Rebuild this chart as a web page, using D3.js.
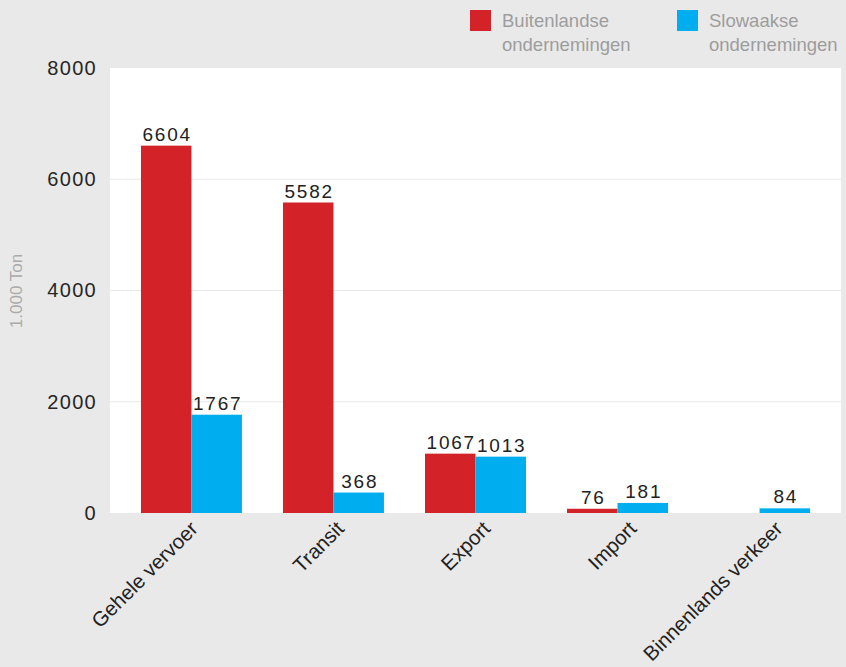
<!DOCTYPE html>
<html>
<head>
<meta charset="utf-8">
<script src="https://cdn.jsdelivr.net/npm/d3@7"></script>
<style>
  html, body { margin: 0; padding: 0; background: #e9e9e9; }
  svg { display: block; font-family: "Liberation Sans", Arial, Helvetica, sans-serif; }
</style>
</head>
<body>
<svg id="chart" width="846" height="667"></svg>
<script>
const categories = ["Gehele vervoer", "Transit", "Export", "Import", "Binnenlands verkeer"];
const seriesNames = ["Buitenlandse ondernemingen", "Slowaakse ondernemingen"];
const legendLines = [["Buitenlandse", "ondernemingen"], ["Slowaakse", "ondernemingen"]];
const buitenlandse = [6604, 5582, 1067, 76, null];
const slowaakse = [1767, 368, 1013, 181, 84];
const yTicks = [0, 2000, 4000, 6000, 8000];
const yTitle = "1.000 Ton";
const colors = ["#d42229", "#00aeef"];

const W = 846, H = 667;
const plot = { left: 110, right: 841, top: 68, bottom: 513 };
const svg = d3.select("#chart");

svg.append("rect").attr("width", W).attr("height", H).attr("fill", "#e9e9e9");
svg.append("rect")
  .attr("x", plot.left).attr("y", plot.top)
  .attr("width", plot.right - plot.left).attr("height", plot.bottom - plot.top)
  .attr("fill", "#ffffff");

const x0 = d3.scaleBand().domain(categories).range([plot.left, plot.right])
  .paddingInner(0.289).paddingOuter(0.218);
const x1 = d3.scaleBand().domain([0, 1]).range([0, x0.bandwidth()]);
const xLab = d3.scaleBand().domain(categories).range([plot.left, plot.right]).padding(0);
const y = d3.scaleLinear().domain([0, 8000]).range([plot.bottom, plot.top]);

// gridlines
svg.append("g").selectAll("line").data(yTicks.filter(t => t > 0 && t < 8000)).join("line")
  .attr("x1", plot.left).attr("x2", plot.right)
  .attr("y1", d => y(d)).attr("y2", d => y(d))
  .attr("stroke", "#e8e8e8").attr("stroke-width", 1.2);

// y axis
const yAxis = d3.axisLeft(y).tickValues(yTicks).tickSize(0).tickPadding(0).tickFormat(d3.format("d"));
const gy = svg.append("g").attr("transform", `translate(${plot.left - 13},0)`).call(yAxis);
gy.select(".domain").remove();
gy.selectAll("text").attr("fill", "#262626").attr("font-size", 20).attr("letter-spacing", "1.3px")
  .attr("font-family", "Liberation Sans, Arial, sans-serif");

// y title
svg.append("text")
  .attr("transform", `translate(22,291) rotate(-90)`)
  .attr("text-anchor", "middle")
  .attr("fill", "#aaaaaa").attr("font-size", 17)
  .text(yTitle);

// bars
const series = [buitenlandse, slowaakse];
series.forEach((vals, si) => {
  const data = categories.map((c, i) => ({ c, v: vals[i] })).filter(d => d.v != null);
  const g = svg.append("g");
  g.selectAll("rect").data(data).join("rect")
    .attr("x", d => x0(d.c) + x1(si))
    .attr("width", x1.bandwidth())
    .attr("y", d => y(d.v))
    .attr("height", d => y(0) - y(d.v))
    .attr("fill", colors[si]);
  g.selectAll("text").data(data).join("text")
    .attr("x", d => x0(d.c) + x1(si) + x1.bandwidth() / 2 + 1)
    .attr("y", d => y(d.v) - 5)
    .attr("text-anchor", "middle")
    .attr("fill", "#222").attr("font-size", 19).attr("letter-spacing", "1.8px")
    .text(d => d.v);
});

// x axis labels
const xAxis = d3.axisBottom(xLab).tickSize(0).tickPadding(0);
const gx = svg.append("g").attr("transform", `translate(0,${plot.bottom})`).call(xAxis);
gx.select(".domain").remove();
gx.selectAll("text")
  .attr("fill", "#222").attr("font-size", 20.5)
  .attr("font-family", "Liberation Sans, Arial, sans-serif")
  .attr("text-anchor", "end")
  .attr("y", 0)
  .attr("dy", "0")
  .attr("transform", "translate(16,17) rotate(-45)");

// legend
const lg = svg.append("g");
const legX = [470, 677];
seriesNames.forEach((name, i) => {
  lg.append("rect").attr("x", legX[i]).attr("y", 10).attr("width", 21).attr("height", 21).attr("fill", colors[i]);
  const t = lg.append("text").attr("x", legX[i] + 32).attr("y", 27)
    .attr("fill", "#9d9d9d").attr("font-size", 18.5);
  legendLines[i].forEach((ln, j) => {
    t.append("tspan").attr("x", legX[i] + 32).attr("dy", j === 0 ? 0 : 24).text(ln);
  });
});
</script>
</body>
</html>
